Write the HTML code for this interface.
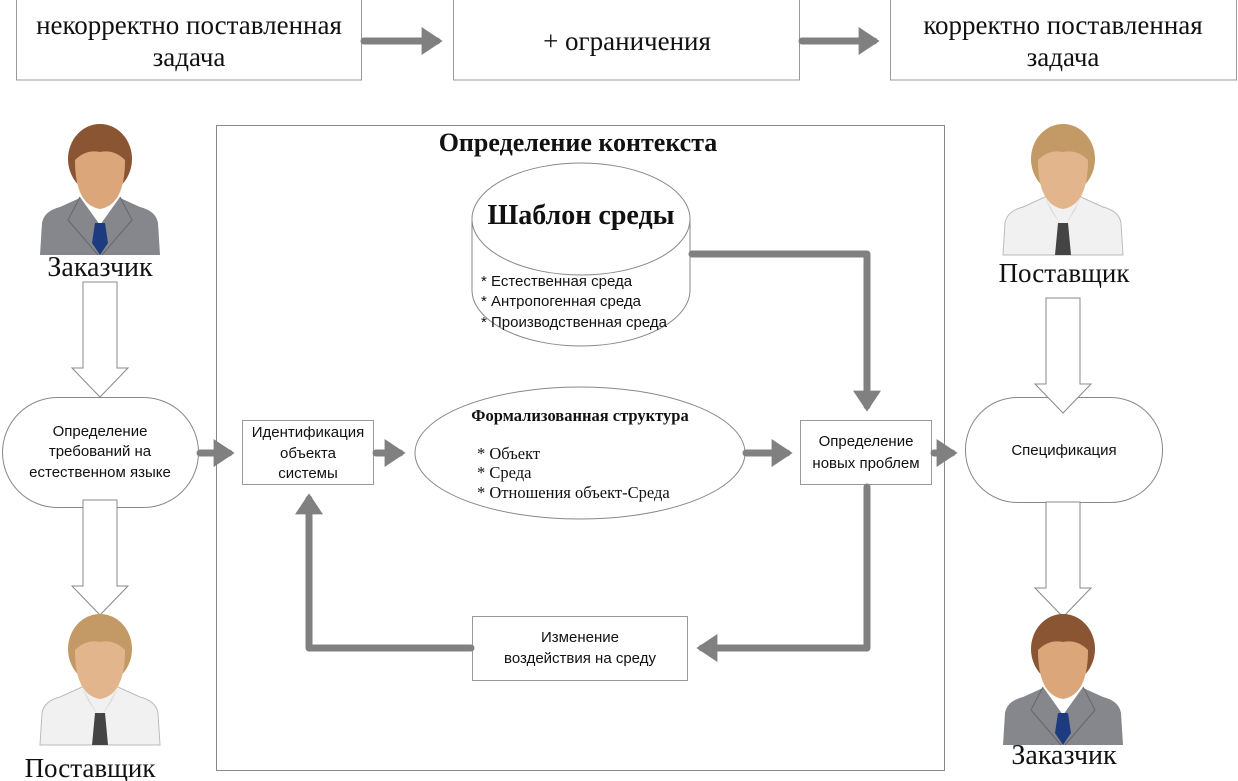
<!DOCTYPE html>
<html><head><meta charset="utf-8"><style>
body{margin:0;background:#fff}
svg{display:block}
text{font-family:"Liberation Sans",sans-serif;fill:#111}
.s{font-family:"Liberation Serif",serif}
</style></head><body>
<svg width="1238" height="781" viewBox="0 0 1238 781" xmlns="http://www.w3.org/2000/svg">
<defs>
<marker id="ah" markerWidth="4" markerHeight="4" refX="2.2" refY="2" orient="auto" markerUnits="strokeWidth"><path d="M0,0 L3,2 L0,4 z" fill="#808080"/></marker>
<g id="boss">
<path d="M0,130 L2,98 Q4,86 20,82 L42,72 L78,72 L100,82 Q116,86 118,98 L120,130 Z" fill="#86878c"/>
<path d="M40,72 L60,100 L80,72 Z" fill="#fff"/>
<path d="M55,98 L65,98 L68,118 L60,130 L52,118 Z" fill="#1f3b80"/>
<path d="M40,72 L28,95 L58,130 M80,72 L92,95 L62,130" stroke="#666" fill="none"/>
<ellipse cx="60" cy="34" rx="32" ry="35" fill="#8a5533"/>
<path d="M35,35 Q35,80 60,84 Q85,80 85,35 Q74,24 60,27 Q46,24 35,35 Z" fill="#dba77a"/>
</g>
<g id="sup">
<path d="M0,130 L2,98 Q4,86 20,82 L42,72 L78,72 L100,82 Q116,86 118,98 L120,130 Z" fill="#f1f1f1" stroke="#bbb"/>
<path d="M42,72 L58,100 L48,86 Z M78,72 L62,100 L72,86 Z" fill="#ddd"/>
<path d="M55,98 L65,98 L68,130 L52,130 Z" fill="#444"/>
<ellipse cx="60" cy="34" rx="32" ry="35" fill="#c39a66"/>
<path d="M35,35 Q35,80 60,84 Q85,80 85,35 Q74,24 60,27 Q46,24 35,35 Z" fill="#e3b58c"/>
</g>
<g id="hollow">
<path d="M-17,0 H17 V86 H28 L0,115 L-28,86 H-17 Z" fill="#fff" stroke="#888"/>
</g>
</defs>

<!-- top row -->
<rect x="16.5" y="-1" width="345" height="81" fill="#fff" stroke="#999"/>
<rect x="453.5" y="-1" width="346" height="81" fill="#fff" stroke="#999"/>
<rect x="890.5" y="-1" width="346" height="81" fill="#fff" stroke="#999"/>
<text class="s" x="189" y="34" font-size="27" text-anchor="middle">некорректно поставленная</text>
<text class="s" x="189" y="66" font-size="27" text-anchor="middle">задача</text>
<text class="s" x="627" y="50" font-size="27" text-anchor="middle">+ ограничения</text>
<text class="s" x="1063" y="34" font-size="27" text-anchor="middle">корректно поставленная</text>
<text class="s" x="1063" y="66" font-size="27" text-anchor="middle">задача</text>
<g stroke="#808080" stroke-width="7" stroke-linecap="round" fill="none">
<line x1="364" y1="41" x2="437" y2="41" marker-end="url(#ah)"/>
<line x1="802" y1="41" x2="874" y2="41" marker-end="url(#ah)"/>
</g>

<!-- container -->
<rect x="216.5" y="125.5" width="728" height="645" fill="none" stroke="#888"/>
<text class="s" x="578" y="151" font-size="26" font-weight="bold" text-anchor="middle">Определение контекста</text>

<!-- cylinder -->
<path d="M472,219 V290 A109,56 0 0 0 690,290 V219" fill="#fff" stroke="#888"/>
<ellipse cx="581" cy="219" rx="109" ry="56" fill="#fff" stroke="#888"/>
<text class="s" x="581" y="224" font-size="28" font-weight="bold" text-anchor="middle">Шаблон среды</text>
<text x="481" y="286" font-size="15">* Естественная среда</text>
<text x="481" y="306" font-size="15">* Антропогенная среда</text>
<text x="481" y="327" font-size="15">* Производственная среда</text>

<!-- formal ellipse -->
<ellipse cx="580" cy="453" rx="165" ry="66" fill="#fff" stroke="#888"/>
<text class="s" x="580" y="421" font-size="16.5" font-weight="bold" text-anchor="middle">Формализованная структура</text>
<text class="s" x="477" y="459" font-size="16.5">* Объект</text>
<text class="s" x="477" y="478" font-size="16.5">* Среда</text>
<text class="s" x="477" y="498" font-size="16.5">* Отношения объект-Среда</text>

<!-- boxes -->
<rect x="242.5" y="420.5" width="131" height="64" fill="#fff" stroke="#999"/>
<text x="308" y="437" font-size="15" text-anchor="middle">Идентификация</text>
<text x="308" y="458" font-size="15" text-anchor="middle">объекта</text>
<text x="308" y="478" font-size="15" text-anchor="middle">системы</text>
<rect x="800.5" y="420.5" width="131" height="64" fill="#fff" stroke="#999"/>
<text x="866" y="446" font-size="15" text-anchor="middle">Определение</text>
<text x="866" y="468" font-size="15" text-anchor="middle">новых проблем</text>
<rect x="472.5" y="616.5" width="215" height="64" fill="#fff" stroke="#999"/>
<text x="580" y="642" font-size="15" text-anchor="middle">Изменение</text>
<text x="580" y="663" font-size="15" text-anchor="middle">воздействия на среду</text>

<!-- stadiums -->
<rect x="2.5" y="397.5" width="196" height="110" rx="55" fill="#fff" stroke="#888"/>
<text x="100" y="436" font-size="15" text-anchor="middle">Определение</text>
<text x="100" y="456" font-size="15" text-anchor="middle">требований на</text>
<text x="100" y="477" font-size="15" text-anchor="middle">естественном языке</text>
<rect x="965.5" y="397.5" width="197" height="105" rx="52" fill="#fff" stroke="#888"/>
<text x="1064" y="455" font-size="15" text-anchor="middle">Спецификация</text>

<!-- connectors -->
<g stroke="#808080" stroke-width="7" stroke-linecap="round" stroke-linejoin="round" fill="none">
<line x1="200" y1="453" x2="229" y2="453" marker-end="url(#ah)"/>
<line x1="376" y1="453" x2="400" y2="453" marker-end="url(#ah)"/>
<line x1="746" y1="453" x2="787" y2="453" marker-end="url(#ah)"/>
<line x1="934" y1="453" x2="952" y2="453" marker-end="url(#ah)"/>
<polyline points="692,254 867,254 867,406" marker-end="url(#ah)"/>
<polyline points="867,487 867,648 702,648" marker-end="url(#ah)"/>
<polyline points="471,648 309,648 309,499" marker-end="url(#ah)"/>
</g>

<!-- hollow arrows -->
<use href="#hollow" x="100" y="282"/>
<use href="#hollow" x="100" y="500"/>
<use href="#hollow" x="1063" y="298"/>
<use href="#hollow" x="1063" y="502"/>

<!-- people -->
<use href="#boss" x="40" y="125"/>
<text class="s" x="100" y="276" font-size="28" text-anchor="middle">Заказчик</text>
<use href="#sup" x="40" y="615"/>
<text class="s" x="90" y="777" font-size="27" text-anchor="middle">Поставщик</text>
<use href="#sup" x="1003" y="125"/>
<text class="s" x="1064" y="282" font-size="27" text-anchor="middle">Поставщик</text>
<use href="#boss" x="1003" y="615"/>
<text class="s" x="1064" y="764" font-size="28" text-anchor="middle">Заказчик</text>
</svg>
</body></html>
